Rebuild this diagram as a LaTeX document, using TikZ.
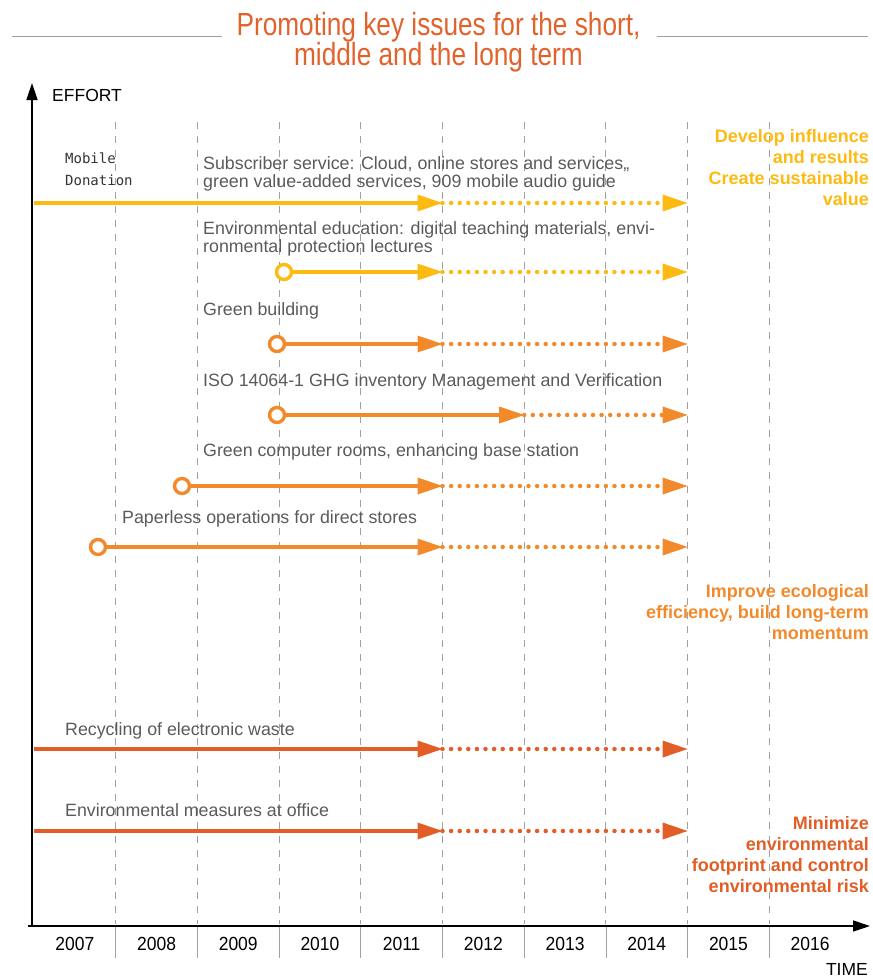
\documentclass[tikz,border=0pt]{standalone}
\usepackage{fontspec}
\setmainfont{Liberation Sans}
\newfontfamily\monof{DejaVu Sans Mono}
\usetikzlibrary{arrows.meta}
\definecolor{yellowc}{HTML}{FDBA12}
\definecolor{orangec}{HTML}{F28A2C}
\definecolor{redc}{HTML}{E25E26}
\definecolor{titlec}{HTML}{E2622C}
\definecolor{gridc}{HTML}{A0A0A0}
\definecolor{labelc}{HTML}{5A5A5A}
\newcommand\lblfont{\fontsize{17.8}{17.5}\selectfont}
\newcommand\goalfont{\fontsize{18}{21}\selectfont\bfseries}
\tikzset{
  gridline/.style={gridc, line width=1pt, dash pattern=on 7pt off 7pt},
  sepline/.style={gridc, line width=0.8pt},
  axisline/.style={black, line width=1.5pt, -{Triangle[length=17pt,width=11pt]}},
  solidarr/.style={line width=4.2pt, -{Triangle[length=25pt,width=17pt,line width=0pt]}},
  dotarr/.style={line width=4.5pt, line cap=round, dash pattern=on 0pt off 8.6pt, -{Triangle[length=25pt,width=17pt,line width=0pt]}},
  ring/.style={circle, draw, line width=3.4pt, fill=white, minimum size=15pt, inner sep=0pt},
  lbl/.style={font=\lblfont, text=labelc, anchor=base west, inner sep=0pt, align=left},
  goal/.style={font=\goalfont, anchor=base east, align=right, inner sep=0pt},
  year/.style={font=\fontsize{19}{19}\selectfont, anchor=base, inner sep=0pt, xscale=0.92},
  axlbl/.style={font=\fontsize{17.5}{18}\selectfont, inner sep=0pt},
}
\begin{document}
\begin{tikzpicture}[x=1pt,y=-1pt]
\useasboundingbox (0,0) rectangle (873,978);
% title
\node[font=\fontsize{32}{30}\selectfont, text=titlec, align=center, anchor=base, inner sep=0pt, xscale=0.82] (title) at (438.5,65) {Promoting key issues for the short,\\middle and the long term};
\coordinate (tl1) at (12,36); \coordinate (tl2) at (222,36);
\coordinate (tr1) at (657,36); \coordinate (tr2) at (868,36);
\draw[gridc, line width=1pt] (tl1) -- (tl2);
\draw[gridc, line width=1pt] (tr1) -- (tr2);
% grid
\foreach \k in {1,...,9} {
  \draw[gridline] ({34+81.7*\k},122) -- ({34+81.7*\k},924);
  \draw[sepline] ({34+81.7*\k},926) -- ({34+81.7*\k},958);
}
% axes
\coordinate (o) at (32,926);
\coordinate (ytip) at (32,83);
\coordinate (xs) at (28,926);
\coordinate (xtip) at (870,926);
\draw[axisline] (o) -- (ytip);
\draw[axisline] (xs) -- (xtip);
\node[axlbl, anchor=base west] (effort) at (52,101) {EFFORT};
\node[axlbl, anchor=base east] (time) at (868,975) {TIME};
\foreach \k/\yr in {0/2007,1/2008,2/2009,3/2010,4/2011,5/2012,6/2013,7/2014,8/2015,9/2016}
  \node[year] (y\yr) at ({74.85+81.7*\k},950) {\yr};
% row 1
\coordinate (a1) at (34,203); \coordinate (m1) at (442.5,203); \coordinate (e1) at (687.6,203);
\draw[solidarr, yellowc] (a1) -- (m1);
\draw[dotarr, yellowc] (m1) -- (e1);
\node[font=\monof\fontsize{14}{22}\selectfont, text=black!80, anchor=base west, align=left, inner sep=0pt] (mob) at (65,185) {Mobile\\Donation};
\node[lbl] (l1) at (203,187) {Subscriber service: Cloud, online stores and services,,\\green value-added services, 909 mobile audio guide};
% row 2
\node[ring, draw=yellowc] (c2) at (284,272) {};
\coordinate (m2) at (442.5,272); \coordinate (e2) at (687.6,272);
\draw[solidarr, yellowc] (c2) -- (m2);
\draw[dotarr, yellowc] (m2) -- (e2);
\node[lbl] (l2) at (203,252) {Environmental education: digital teaching materials, envi-\\ronmental protection lectures};
% row 3
\node[ring, draw=orangec] (c3) at (277,344) {};
\coordinate (m3) at (442.5,344); \coordinate (e3) at (687.6,344);
\draw[solidarr, orangec] (c3) -- (m3);
\draw[dotarr, orangec] (m3) -- (e3);
\node[lbl] (l3) at (203,315) {Green building};
% row 4
\node[ring, draw=orangec] (c4) at (277,415) {};
\coordinate (m4) at (524.2,415); \coordinate (e4) at (687.6,415);
\draw[solidarr, orangec] (c4) -- (m4);
\draw[dotarr, orangec] (m4) -- (e4);
\node[lbl] (l4) at (203,386) {ISO 14064-1 GHG inventory Management and Verification};
% row 5
\node[ring, draw=orangec] (c5) at (182,486) {};
\coordinate (m5) at (442.5,486); \coordinate (e5) at (687.6,486);
\draw[solidarr, orangec] (c5) -- (m5);
\draw[dotarr, orangec] (m5) -- (e5);
\node[lbl] (l5) at (203,456) {Green computer rooms, enhancing base station};
% row 6
\node[ring, draw=orangec] (c6) at (98,547) {};
\coordinate (m6) at (442.5,547); \coordinate (e6) at (687.6,547);
\draw[solidarr, orangec] (c6) -- (m6);
\draw[dotarr, orangec] (m6) -- (e6);
\node[lbl] (l6) at (122,523) {Paperless operations for direct stores};
% row 7
\coordinate (a7) at (34,749); \coordinate (m7) at (442.5,749); \coordinate (e7) at (687.6,749);
\draw[solidarr, redc] (a7) -- (m7);
\draw[dotarr, redc] (m7) -- (e7);
\node[lbl] (l7) at (65,735) {Recycling of electronic waste};
% row 8
\coordinate (a8) at (34,831); \coordinate (m8) at (442.5,831); \coordinate (e8) at (687.6,831);
\draw[solidarr, redc] (a8) -- (m8);
\draw[dotarr, redc] (m8) -- (e8);
\node[lbl] (l8) at (65,816) {Environmental measures at office};
% goals
\node[goal, text=yellowc] (g1) at (869,205) {Develop influence\\and results\\Create sustainable\\value};
\node[goal, text=orangec] (g2) at (869,639) {Improve ecological\\efficiency, build long-term\\momentum};
\node[goal, text=redc] (g3) at (869,892) {Minimize\\environmental\\footprint and control\\environmental risk};
\end{tikzpicture}
\end{document}
